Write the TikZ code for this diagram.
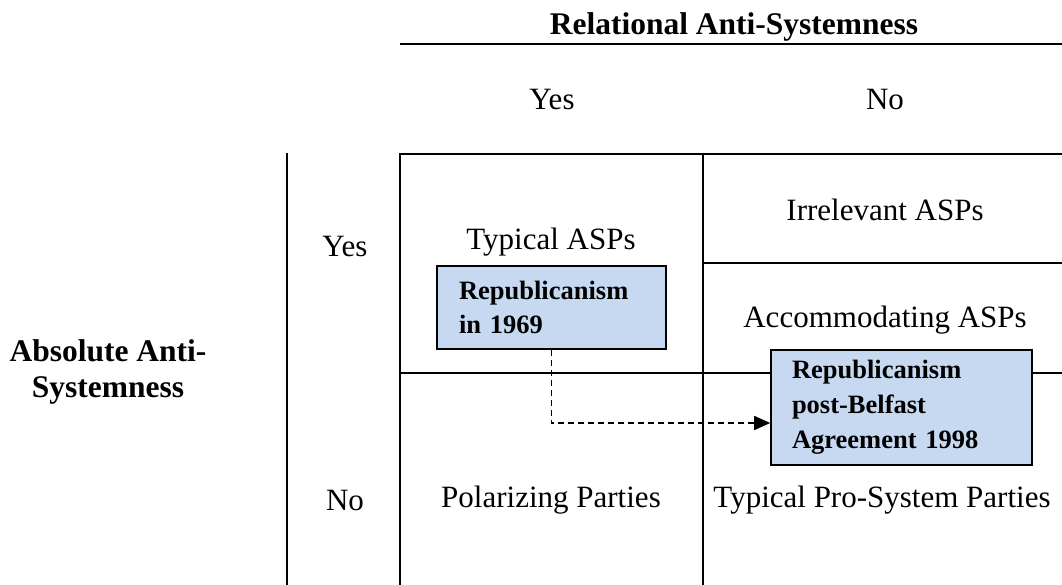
\documentclass[tikz,border=0pt]{standalone}
\usepackage{fontspec}
\setmainfont{Liberation Serif}
\usetikzlibrary{arrows.meta,calc}
\definecolor{boxblue}{RGB}{198,217,241}
\begin{document}
\begin{tikzpicture}[x=1pt,y=-1pt,
  rule/.style={line width=1.6pt,black},
  lbl/.style={font=\fontsize{31}{36}\selectfont, inner sep=0pt},
  head/.style={font=\fontsize{31.5}{37}\selectfont\bfseries, inner sep=0pt, align=center},
  casebox/.style={draw=black, line width=1.6pt, fill=boxblue, align=left,
    font=\fontsize{26.5}{34}\selectfont\bfseries, anchor=center}]
\useasboundingbox (0,0) rectangle (1062,585);
% rules and grid
\draw[rule] (400,44) -- (1075,44);
\draw[rule] (400,154) -- (1075,154);
\draw[rule] (400,153) -- (400,600);
\draw[rule] (703,153) -- (703,600);
\draw[rule] (703,263) -- (1075,263);
\draw[rule] (400,373) -- (1075,373);
\draw[rule] (287,153) -- (287,600);
% headings
\node[head] (rel) at (734,27) {Relational Anti-Systemness};
\node[lbl] (ryes) at (552,100) {Yes};
\node[lbl] (rno) at (885,100) {No};
\node[head] (abs) at (108,372) {Absolute Anti-\\[-1pt]Systemness};
\node[lbl] (ayes) at (345,247) {Yes};
\node[lbl] (ano) at (345,500) {No};
% cell texts
\node[lbl] (typ) at (551,242) {Typical ASPs};
\node[lbl] (irr) at (885,210) {Irrelevant ASPs};
\node[lbl] (acc) at (885,320) {Accommodating ASPs};
\node[lbl] (pol) at (551,500) {Polarizing Parties};
\node[lbl] (pro) at (882,500) {Typical Pro-System Parties};
% case boxes
\node[casebox, minimum width=229pt, minimum height=83pt, text width=185pt, inner xsep=22pt, inner ysep=0pt]
  (b1) at (551.5,307.5) {Republicanism\\in 1969};
\node[casebox, minimum width=261pt, minimum height=115pt, text width=219pt, inner xsep=21pt, inner ysep=0pt,
  font=\fontsize{26.5}{35}\selectfont\bfseries]
  (b2) at (901.5,407.5) {Republicanism\\post-Belfast\\Agreement 1998};
\coordinate (tip) at (b2.west |- 0,423);
\draw[line width=1.6pt, dash pattern=on 6pt off 4pt, -{Triangle[length=16pt,width=14pt]}]
  (b1.south) |- (tip);
\end{tikzpicture}
\end{document}
